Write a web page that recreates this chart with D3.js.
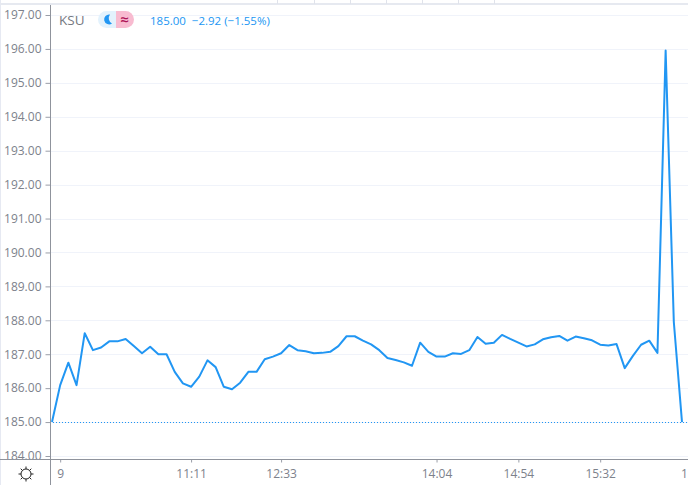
<!DOCTYPE html>
<html>
<head>
<meta charset="utf-8">
<script src="https://cdnjs.cloudflare.com/ajax/libs/d3/7.8.5/d3.min.js"></script>
<style>
  html, body { margin: 0; padding: 0; background: #fff; }
  svg { display: block; }
  text { font-family: "Open Sans", sans-serif; }
</style>
</head>
<body>
<div id="wrapper"></div>
<script>
// price per bar
const prices = [185.00,186.09,186.75,186.09,187.62,187.12,187.20,187.38,187.38,187.45,
  187.24,187.03,187.22,187.00,187.00,186.48,186.14,186.04,186.34,186.82,
  186.62,186.04,185.97,186.16,186.48,186.48,186.85,186.93,187.03,187.27,
  187.12,187.09,187.03,187.04,187.07,187.24,187.53,187.53,187.40,187.29,
  187.12,186.89,186.83,186.76,186.66,187.34,187.07,186.93,186.93,187.03,
  187.01,187.12,187.51,187.31,187.34,187.57,187.45,187.34,187.23,187.29,
  187.44,187.50,187.54,187.40,187.52,187.47,187.41,187.28,187.26,187.30,
  186.59,186.95,187.28,187.40,187.04,195.95,187.95,185.00];

const priceTicks = [184,185,186,187,188,189,190,191,192,193,194,195,196,197];
const timeLabels = ["9","11:11","12:33","14:04","14:54","15:32","1"];
const timeBars = [1,17,28,47,57,67,77.35];

const lastPrice = 185.00;
const legendName = "KSU";
const legendValues = "185.00  \u22122.92 (\u22121.55%)";

const dimensions = { width:688, height:485 };
const plot = { left:50, right:688, top:5, bottom:459 };

const xScale = d3.scaleLinear().domain([0,prices.length-1]).range([52,682]);
const yScale = d3.scaleLinear().domain([184,197]).range([456,15]);

const wrapper = d3.select("#wrapper").append("svg")
  .attr("width",dimensions.width)
  .attr("height",dimensions.height);

// page edge + top strip with the toolbar separators
wrapper.append("rect").attr("x",0).attr("y",0).attr("width",1).attr("height",dimensions.height).attr("fill","#e6e9f2");
wrapper.append("rect").attr("x",0).attr("y",3).attr("width",dimensions.width).attr("height",2).attr("fill","#e6e9f0");
wrapper.append("g").selectAll("line")
  .data([277,314,350,386,422,458,494])
  .join("line")
  .attr("x1",d => d+0.5).attr("x2",d => d+0.5)
  .attr("y1",0).attr("y2",4)
  .attr("stroke","#e0e3eb");

// grid
wrapper.append("g").selectAll("line")
  .data(priceTicks)
  .join("line")
  .attr("x1",plot.left).attr("x2",plot.right)
  .attr("y1",d => Math.round(yScale(d))+0.5)
  .attr("y2",d => Math.round(yScale(d))+0.5)
  .attr("stroke","#f0f3fa");

// last price line
wrapper.append("line")
  .attr("x1",plot.left).attr("x2",plot.right)
  .attr("y1",Math.round(yScale(lastPrice))+0.5)
  .attr("y2",Math.round(yScale(lastPrice))+0.5)
  .attr("stroke","#2196f3")
  .attr("stroke-dasharray","1 2");

// price line
const line = d3.line()
  .x((d,i) => xScale(i))
  .y(d => yScale(d));

wrapper.append("path")
  .datum(prices)
  .attr("d",line)
  .attr("fill","none")
  .attr("stroke","#2196f3")
  .attr("stroke-width",2)
  .attr("stroke-linejoin","round");

// axes
const yAxis = d3.axisLeft(yScale)
  .tickValues(priceTicks)
  .tickFormat(d3.format(".2f"))
  .tickSize(5)
  .tickPadding(4);

const yGroup = wrapper.append("g")
  .attr("transform",`translate(${plot.left+0.5},0)`)
  .call(yAxis);
yGroup.select(".domain").remove();
yGroup.selectAll("line").attr("stroke","#9a9ea8");
yGroup.selectAll("text").attr("fill","#7d828c").attr("font-size",12).style("font-family",'"Open Sans", sans-serif');

const xAxis = d3.axisBottom(xScale)
  .tickValues(timeBars)
  .tickFormat((d,i) => timeLabels[i])
  .tickSize(3)
  .tickPadding(7);

const xGroup = wrapper.append("g")
  .attr("transform",`translate(0,${plot.bottom+0.5})`)
  .call(xAxis);
xGroup.select(".domain").remove();
xGroup.selectAll("line").attr("stroke","#9a9ea8")
  .filter((d,i) => i == timeBars.length-1).remove();
xGroup.selectAll("text").attr("fill","#7d828c").attr("font-size",12).style("font-family",'"Open Sans", sans-serif');
// the last label sits against the right edge, keep it inside the window
xGroup.selectAll("text")
  .filter((d,i) => i == timeBars.length-1)
  .attr("text-anchor","end")
  .attr("x",2.5);

// axis rules on top
wrapper.append("line").attr("x1",0).attr("x2",plot.right)
  .attr("y1",plot.bottom+0.5).attr("y2",plot.bottom+0.5).attr("stroke","#8f939c");
wrapper.append("line").attr("x1",plot.left+0.5).attr("x2",plot.left+0.5)
  .attr("y1",plot.top).attr("y2",dimensions.height).attr("stroke","#8f939c");

// legend
wrapper.append("text").attr("x",59).attr("y",25).attr("font-size",13.5).attr("fill","#75797f").text(legendName);

const badge = wrapper.append("g").attr("transform","translate(98,11)");
badge.append("path").attr("d","M8.5,0H18V17H8.5A8.5,8.5 0 0 1 8.5,0Z").attr("fill","#e3f2fd");
badge.append("path").attr("d","M18,0H27.5A8.5,8.5 0 0 1 27.5,17H18Z").attr("fill","#f8bbd0");
badge.append("path").attr("d","M12,3.5A5,5 0 1 0 14,12.5A6,6 0 0 1 12,3.5Z").attr("fill","#2196f3");
badge.append("text").attr("x",26.5).attr("y",14).attr("text-anchor","middle")
  .attr("font-size",15).attr("font-weight",600).attr("fill","#ad1457").text("\u2248");

wrapper.append("text").attr("x",150).attr("y",25).attr("font-size",11.5)
  .attr("fill","#2196f3").style("white-space","pre").text(legendValues);

// settings icon
const gear = wrapper.append("g").attr("transform","translate(26,474)");
gear.append("circle").attr("r",5).attr("fill","none").attr("stroke","#222").attr("stroke-width",1);
gear.selectAll("line")
  .data(d3.range(8))
  .join("line")
  .attr("x1",d => 5*Math.cos(d*Math.PI/4)).attr("y1",d => 5*Math.sin(d*Math.PI/4))
  .attr("x2",d => 7.5*Math.cos(d*Math.PI/4)).attr("y2",d => 7.5*Math.sin(d*Math.PI/4))
  .attr("stroke","#222");
</script>
</body>
</html>
